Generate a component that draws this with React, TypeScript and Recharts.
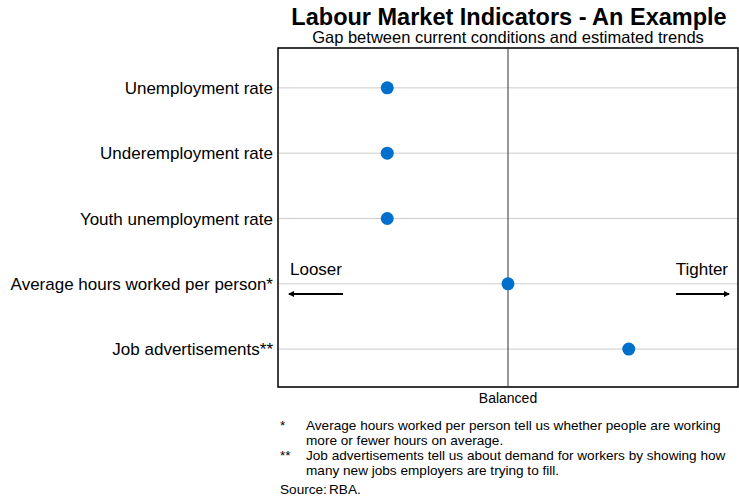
import React from "react";
import {
  ScatterChart,
  Scatter,
  XAxis,
  YAxis,
  CartesianGrid,
  ReferenceLine,
  ReferenceArea,
} from "recharts";

// Indicators, top to bottom
const indicators: string[] = [
  "Unemployment rate",
  "Underemployment rate",
  "Youth unemployment rate",
  "Average hours worked per person*",
  "Job advertisements**",
];

// Gap from trend (negative = looser, positive = tighter)
const gaps: number[] = [-1.05, -1.05, -1.05, 0, 1.05];

const positions: number[] = [1, 2, 3, 4, 5];

const data = indicators.map((name, i) => ({ name, gap: gaps[i], pos: positions[i] }));

const FONT = "'Liberation Sans', Arial, sans-serif";
const DOT = "#0070CC";

const Dot = (props: any) => {
  const { cx = 0, cy = 0 } = props;
  return <circle cx={cx} cy={cy} r={6.5} fill={DOT} />;
};

const App = () => {
  return (
    <div
      style={{
        position: "absolute",
        left: 0,
        top: 0,
        width: 739,
        height: 501,
        background: "#fff",
        fontFamily: FONT,
        color: "#000",
      }}
    >
      <ScatterChart
        width={739}
        height={501}
        margin={{ top: 48, right: 1, bottom: 74, left: 0 }}
        style={{ fontFamily: FONT }}
      >
        <CartesianGrid vertical={false} stroke="#cccccc" strokeWidth={1} />
        <XAxis
          type="number"
          dataKey="gap"
          domain={[-2, 2]}
          ticks={[0]}
          tickFormatter={() => "Balanced"}
          axisLine={false}
          tickLine={false}
          tickSize={0}
          tickMargin={6}
          height={40}
          tick={{ fill: "#000", fontSize: 14 }}
        />
        <YAxis
          type="number"
          dataKey="pos"
          domain={[0.39, 5.58]}
          reversed
          ticks={positions}
          tickFormatter={(v: number) => indicators[v - 1]}
          axisLine={false}
          tickLine={false}
          tickSize={0}
          tickMargin={5}
          width={278}
          interval={0}
          tick={{ fill: "#000", fontSize: 17 }}
        />
        <ReferenceLine x={0} stroke="#333" strokeWidth={1} />
        <ReferenceArea
          x1={-2}
          x2={2}
          y1={0.39}
          y2={5.58}
          fill="none"
          fillOpacity={0}
          stroke="#000"
          strokeWidth={1.5}
          ifOverflow="visible"
        />
        <Scatter data={data} shape={<Dot />} isAnimationActive={false} />
      </ScatterChart>

      <svg
        width={739}
        height={501}
        style={{ position: "absolute", left: 0, top: 0, pointerEvents: "none" }}
      >
        <defs>
          <marker
            id="arrowhead"
            markerWidth="6"
            markerHeight="6"
            refX="5"
            refY="3"
            orient="auto"
            markerUnits="userSpaceOnUse"
          >
            <path d="M0,0 L6,3 L0,6 Z" fill="#000" />
          </marker>
        </defs>
        <text x={509} y={24.5} textAnchor="middle" fontSize={23.5} fontWeight="bold" fontFamily={FONT}>
          Labour Market Indicators - An Example
        </text>
        <text x={508} y={43} textAnchor="middle" fontSize={16.5} fontFamily={FONT}>
          Gap between current conditions and estimated trends
        </text>

        <text x={290} y={275} fontSize={17} fontFamily={FONT}>
          Looser
        </text>
        <line x1={343} y1={294} x2={289} y2={294} stroke="#000" strokeWidth={2} markerEnd="url(#arrowhead)" />
        <text x={728} y={275} textAnchor="end" fontSize={17} fontFamily={FONT}>
          Tighter
        </text>
        <line x1={676} y1={294} x2={729} y2={294} stroke="#000" strokeWidth={2} markerEnd="url(#arrowhead)" />

        <g fontSize={13.6} fontFamily={FONT} fill="#000">
          <text x={280} y={430}>*</text>
          <text x={306} y={430}>Average hours worked per person tell us whether people are working</text>
          <text x={306} y={445}>more or fewer hours on average.</text>
          <text x={280} y={460}>**</text>
          <text x={306} y={460}>Job advertisements tell us about demand for workers by showing how</text>
          <text x={306} y={475}>many new jobs employers are trying to fill.</text>
          <text x={280} y={494}>Source:</text>
          <text x={329} y={494}>RBA.</text>
        </g>
      </svg>
    </div>
  );
};

export default App;
